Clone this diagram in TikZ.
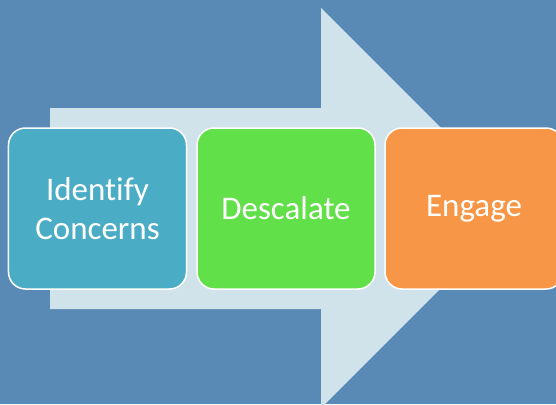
\documentclass[tikz,border=0pt]{standalone}
\usepackage{fontspec}
\setmainfont{Carlito}[Ligatures=NoCommon]
\definecolor{bg}{HTML}{588AB5}
\definecolor{arrowc}{HTML}{D0E2EA}
\definecolor{boxblue}{HTML}{4BACC6}
\definecolor{boxgreen}{HTML}{62E04A}
\definecolor{boxorange}{HTML}{F79646}
\tikzset{
  stepbox/.style={draw=white, line width=1.5bp, rounded corners=17bp, minimum width=178bp, minimum height=161bp, text=white, font=\fontsize{33bp}{39bp}\selectfont, align=center, inner sep=0pt}
}
\begin{document}
\begin{tikzpicture}[x=1bp,y=-1bp]
\useasboundingbox (0,0) rectangle (556,404);
\clip (0,0) rectangle (556,404);
\fill[bg] (0,0) rectangle (556,404);
\fill[arrowc] (50,108) -- (321,108) -- (321,8) -- (521,208) -- (321,408) -- (321,309) -- (50,309) -- cycle;
\node[stepbox, fill=boxblue] (a) at (97.5,208.5) {Identify\\Concerns};
\node[stepbox, fill=boxgreen] (b) at (286,208.5) {Descalate};
\node[stepbox, fill=boxorange] (c) at (474,208.5) {Engage};
\end{tikzpicture}
\end{document}
